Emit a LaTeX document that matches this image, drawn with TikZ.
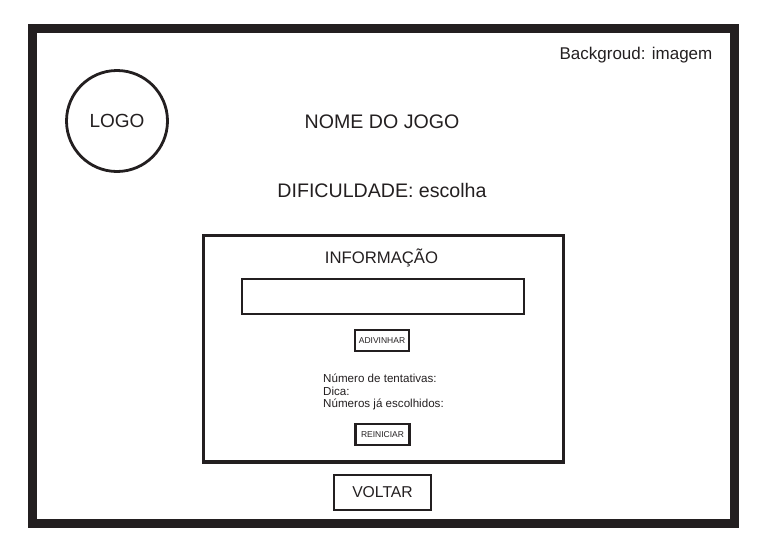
\documentclass[tikz,border=0pt]{standalone}
\usepackage{fontspec}
\setmainfont{Liberation Sans}
\definecolor{ink}{HTML}{231F20}
\begin{document}
\begin{tikzpicture}[x=1pt,y=-1pt,
  txt/.style={inner sep=0pt, anchor=center, text=ink},
  smallbtn/.style={draw=ink, line width=2.4pt, minimum width=54pt, minimum height=21pt, inner sep=0pt, font=\fontsize{8.5}{10}\selectfont, text=ink},
  frame/.style={draw=ink, line width=8.5pt},
]
\useasboundingbox (0,0) rectangle (764,552);
% outer frame
\node[frame, minimum width=702pt, minimum height=495pt, inner sep=0pt] (page) at (383.25,275.75) {};
% title texts
\node[txt, font=\fontsize{17}{20}\selectfont] (bg) at (636,55) {Backgroud: imagem};
\node[circle, draw=ink, line width=2.8pt, minimum size=101pt, inner sep=0pt, font=\fontsize{19}{22}\selectfont, text=ink] (logo) at (117,121) {LOGO};
\node[txt, font=\fontsize{19.6}{22}\selectfont] (nome) at (382,122) {NOME DO JOGO};
\node[txt, font=\fontsize{19.6}{22}\selectfont] (dif) at (382,190) {DIFICULDADE: escolha};
% info box
\node[draw=ink, line width=3.2pt, minimum width=360pt, minimum height=226.5pt, inner sep=0pt] (info) at (383.5,348.75) {};
\node[txt, font=\fontsize{16.7}{20}\selectfont] (infot) at (381.5,258) {INFORMAÇÃO};
\node[draw=ink, line width=2.6pt, minimum width=282pt, minimum height=35pt, inner sep=0pt] (input) at (383,296.5) {};
\node[smallbtn] (adiv) at (382,340.5) {ADIVINHAR};
\node[txt, anchor=west, font=\fontsize{11.6}{12.5}\selectfont, align=left] (stats) at (323,392) {Número de tentativas:\\Dica:\\Números já escolhidos:};
\node[smallbtn] (rein) at (382.5,434.5) {REINICIAR};
% voltar
\node[draw=ink, line width=2.6pt, minimum width=97pt, minimum height=35pt, inner sep=0pt, font=\fontsize{15.7}{18}\selectfont, text=ink] (voltar) at (382.5,492.5) {VOLTAR};
\end{tikzpicture}
\end{document}
